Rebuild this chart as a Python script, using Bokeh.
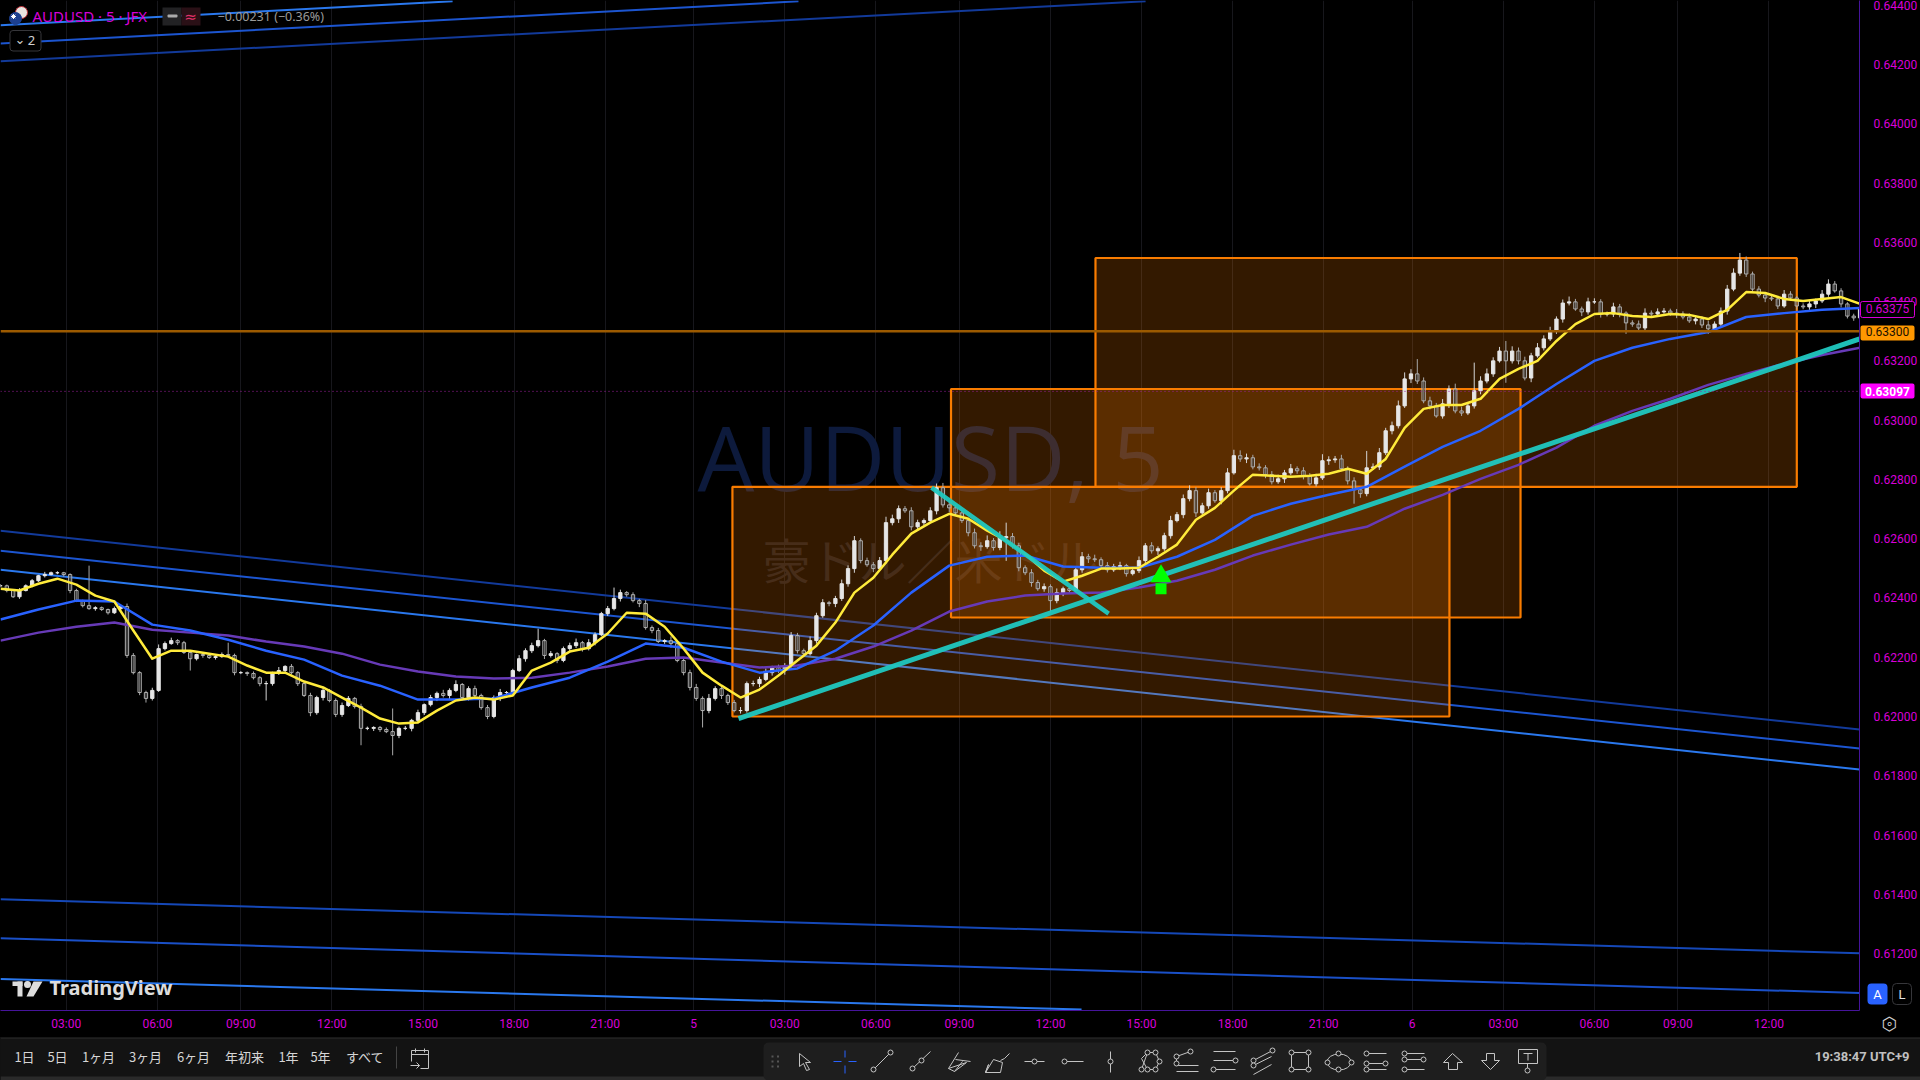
from bokeh.plotting import figure
from bokeh.models import Range1d, FixedTicker, Span, Label, BoxAnnotation
from bokeh.layouts import column
from bokeh.core.properties import value
from bokeh.embed import file_html
from bokeh.resources import INLINE
import numpy as np

# ---------- chart values (prices in 1e-5 units) ----------
closes = [
62441,62425,62404,62425,62441,62458,62475,62479,62485,62485,62479,62425,62391,62374,62364,62367,62361,62350,62364,62371,
62206,62148,62081,62061,62088,62229,62246,62256,62249,62216,62195,62209,62206,62199,62202,62209,62206,62148,62148,62145,
62131,62111,62111,62145,62155,62169,62148,62111,62071,62013,62064,62088,62054,62007,62037,62061,62034,61960,61960,61963,
61956,61949,61936,61960,61960,61987,62013,62040,62064,62078,62071,62088,62108,62064,62094,62071,62030,62000,62064,62081,
62081,62155,62195,62222,62239,62256,62206,62212,62189,62229,62239,62249,62229,62249,62276,62347,62364,62398,62418,62411,
62391,62381,62300,62290,62253,62256,62246,62189,62148,62098,62061,62020,62061,62094,62071,62047,62020,62020,62111,62111,
62125,62148,62165,62155,62172,62273,62222,62212,62256,62340,62384,62381,62398,62448,62499,62593,62526,62512,62499,62526,
62654,62667,62701,62694,62640,62654,62661,62694,62772,62714,62704,62687,62661,62620,62576,62573,62593,62570,62603,62607,
62576,62502,62485,62452,62431,62438,62391,62418,62431,62425,62495,62539,62532,62529,62509,62495,62506,62509,62482,62492,
62526,62576,62559,62566,62610,62661,62681,62735,62762,62687,62711,62755,62728,62762,62822,62880,62869,62873,62842,62839,
62816,62792,62802,62822,62836,62829,62812,62785,62805,62863,62866,62869,62836,62795,62765,62752,62839,62842,62890,62964,
62981,63048,63139,63156,63132,63065,63048,63014,63055,63105,63031,63024,63048,63099,63132,63156,63200,63233,63200,63233,
63200,63142,63217,63244,63274,63301,63341,63395,63399,63375,63365,63399,63399,63358,63358,63382,63361,63328,63324,63311,
63361,63358,63365,63368,63361,63358,63348,63335,63341,63321,63308,63324,63368,63442,63496,63540,63493,63442,63422,63412,
63409,63385,63425,63412,63385,63382,63392,63402,63425,63459,63436,63392,63351,63345,63375]
upper_wicks = [
6,4,3,8,5,6,3,9,4,5,3,4,6,3,135,5,4,3,7,5,
10,8,5,6,9,14,7,10,5,6,4,3,8,5,6,7,40,6,5,4,
7,5,9,6,12,4,8,5,7,9,6,12,5,7,10,8,5,9,6,4,
5,7,78,6,8,5,10,4,9,6,12,7,14,5,8,10,6,9,7,12,
5,6,12,8,10,40,6,9,5,7,10,14,6,12,8,6,9,37,10,5,
8,6,12,7,9,5,14,6,8,10,12,7,15,8,10,6,9,12,7,10,
9,14,6,10,8,12,9,7,14,10,12,6,9,14,11,16,8,10,9,12,
20,14,11,9,12,10,7,12,14,16,12,9,10,8,14,12,18,9,22,47,
12,10,8,12,9,11,8,14,7,9,12,16,10,14,8,12,9,13,6,10,
14,9,12,8,10,16,9,14,18,12,10,14,9,12,16,20,18,14,10,12,
9,12,14,10,16,8,12,9,14,22,12,10,14,8,12,9,57,12,16,10,
14,18,22,16,50,12,14,10,16,12,18,14,12,95,16,18,12,14,34,16,
12,14,10,16,12,14,9,12,18,10,8,14,12,9,8,14,10,6,9,12,
16,9,12,10,8,14,9,12,8,10,14,9,12,14,16,24,12,8,10,9,
12,8,14,10,7,9,12,8,14,16,10,9,6,8,10]
lower_wicks = [
5,6,4,7,3,5,4,6,3,5,7,9,5,6,4,7,5,6,4,5,
8,6,9,14,7,5,6,4,8,5,40,6,8,5,7,4,6,9,5,8,
6,9,57,7,5,10,6,8,5,12,7,10,6,9,8,5,7,57,6,9,
8,5,67,9,6,10,5,8,6,12,7,14,6,9,10,8,7,9,6,12,
7,9,5,10,8,6,12,7,9,6,12,8,10,6,9,5,8,6,10,7,
6,12,7,9,5,8,14,6,9,10,8,57,9,7,12,8,6,10,7,9,
12,6,10,8,14,7,9,12,6,10,7,9,12,8,10,14,9,7,12,8,
10,9,14,7,12,8,10,6,12,9,14,10,8,12,9,14,7,10,9,78,
9,12,8,14,7,10,40,9,12,8,6,10,14,8,12,9,7,12,10,6,
8,12,9,14,7,10,6,12,9,14,8,10,7,12,9,6,10,14,8,9,
12,9,7,14,8,10,12,6,9,7,14,10,8,12,47,14,9,7,10,8,
12,9,7,14,10,8,12,6,9,14,8,10,7,9,12,8,10,6,74,9,
12,8,14,6,9,7,10,12,8,6,14,9,7,12,8,10,14,37,9,7,
8,12,10,6,9,14,8,7,12,10,17,8,6,12,7,9,10,12,8,14,
7,10,6,9,12,8,10,14,7,9,6,12,8,10,9]

ma_yellow = [
62431,62425,62448,62465,62445,62408,62388,62290,62195,62222,62222,62212,62202,62172,62148,62148,62118,62098,62064,62030,
61993,61976,61980,62020,62054,62064,62057,62071,62155,62182,62219,62232,62280,62350,62347,62303,62229,62148,62104,62064,
62091,62138,62189,62239,62317,62418,62468,62546,62617,62654,62684,62667,62627,62593,62549,62492,62455,62475,62499,62499,
62502,62539,62580,62664,62704,62762,62816,62812,62809,62812,62819,62836,62819,62869,62974,63038,63051,63051,63072,63139,
63173,63200,63267,63324,63358,63361,63351,63348,63358,63355,63341,63372,63432,63429,63409,63402,63409,63415,63392]
ma_blue = [
62327,62361,62391,62388,62310,62290,62259,62222,62192,62138,62104,62057,62057,62061,62098,62131,62185,62246,62232,62185,
62148,62162,62222,62307,62418,62509,62539,62543,62506,62502,62502,62539,62596,62677,62718,62748,62775,62843,62910,62964,
63038,63122,63200,63244,63274,63297,63348,63361,63372,63378]
ma_purple = [
62256,62283,62303,62317,62293,62283,62273,62253,62236,62212,62175,62152,62135,62128,62131,62148,62169,62195,62199,62182,
62165,62172,62195,62236,62290,62354,62388,62408,62415,62418,62435,62458,62495,62543,62580,62614,62640,62701,62748,62802,
62849,62907,62981,63031,63072,63119,63156,63190,63220,63244]

# trend lines: (bar0, price0, bar1, price1)
down_channel = [(0, 62627, 734.8, 61956), (0, 62559, 734.8, 61892), (0, 62495, 734.8, 61821)]
down_colors = ["#123a9a", "#1c55d0", "#2a78ee"]
low_channel = [(0, 61383, 734.8, 61201), (0, 61252, 734.8, 61067), (0, 61114, 427.3, 61011)]
low_colors = ["#1548b8", "#1a50c8", "#2a78ee"]
up_channel = [(0, 64332, 178.7, 64413), (0, 64271, 315.4, 64413), (0, 64211, 452.6, 64413)]
up_colors = ["#2a78ee", "#1c55d0", "#123a9a"]
teal_lines = [(291.7, 61993, 734.8, 63274), (368, 62772, 438, 62347)]
# boxes: left bar, right bar, top price, bottom price
zones = [(289.3, 572.7, 62775, 62000), (375.7, 600.8, 63105, 62334), (432.8, 710.0, 63547, 62775)]
signal = (458.7, 62473, 62431)

price_ticks = [0.612, 0.614, 0.616, 0.618, 0.620, 0.622, 0.624, 0.626, 0.628, 0.630, 0.632, 0.634, 0.636, 0.638, 0.640, 0.642, 0.644]
time_ticks = [26, 62, 95, 131, 167, 203, 239, 274, 310, 346, 379, 415, 451, 487, 523, 558, 594, 630, 663, 699]
time_labels = ["03:00", "06:00", "09:00", "12:00", "15:00", "18:00", "21:00", "5", "03:00", "06:00", "09:00", "12:00",
               "15:00", "18:00", "21:00", "6", "03:00", "06:00", "09:00", "12:00"]
last_price, level_price, mark_price = 0.63375, 0.63300, 0.63097

# ---------- scales ----------
PX_BAR = 2.53
PX_PRICE = 0.00003374
def X(px): return px / PX_BAR
def Y(py): return 0.62 + (716 - py) * PX_PRICE

MAGENTA = "#d800d8"
p = figure(width=1920, height=1037, output_backend="svg", toolbar_location=None,
           x_range=Range1d(0, X(1859)), y_range=Range1d(Y(1010), Y(0)),
           y_axis_location="right", background_fill_color="#000000", border_fill_color="#000000",
           min_border_left=0, min_border_top=0, min_border_right=61, min_border_bottom=27)
p.outline_line_color = None
p.frame_align = False
p.styles = {"background-color": "#000000"}

p.xaxis.ticker = FixedTicker(ticks=time_ticks)
p.xaxis.major_label_overrides = dict(zip(time_ticks, time_labels))
p.yaxis.ticker = FixedTicker(ticks=price_ticks)
p.yaxis.major_label_overrides = {t: f"{t:.5f}" for t in price_ticks}
for ax in (p.xaxis[0], p.yaxis[0]):
    ax.major_label_text_color = MAGENTA
    ax.major_label_text_font = "Roboto"
    ax.major_label_text_font_size = "12px"
    ax.major_tick_line_color = None
    ax.minor_tick_line_color = None
    ax.axis_line_color = "#46149a"
    ax.axis_line_width = 1
p.xaxis.major_label_standoff = 0
p.yaxis.major_label_standoff = 8
p.xgrid.ticker = FixedTicker(ticks=time_ticks)
p.xgrid.grid_line_color = "#17171c"
p.ygrid.visible = False

# watermark
p.text([X(930)], [Y(455)], text=["AUDUSD, 5"], text_align="center", text_baseline="middle",
       text_color="#0d1a3c", text_font=value("Open Sans"), text_font_size="90px")
p.text([X(930)], [Y(557)], text=["豪ドル／米ドル"], text_align="center", text_baseline="middle",
       text_color="#1a1a20", text_font=value("Noto Sans CJK JP"), text_font_size="48px")

# channels
for group, cols in ((down_channel, down_colors), (low_channel, low_colors), (up_channel, up_colors)):
    for (x0, y0, x1, y1), col in zip(group, cols):
        p.line([x0, x1], [y0 / 1e5, y1 / 1e5], line_color=col, line_width=2)

# zones
for (x0, x1, t_, b_) in zones:
    p.quad(left=[x0], right=[x1], top=[t_ / 1e5], bottom=[b_ / 1e5], fill_color="#ff7f00", fill_alpha=0.2,
           line_color="#f97c00", line_width=2.2)

# candles
c = np.array(closes) / 1e5
o = np.concatenate(([c[0]], c[:-1]))
h = np.maximum(o, c) + np.array(upper_wicks) / 1e5
l = np.minimum(o, c) - np.array(lower_wicks) / 1e5
bars = np.arange(len(c)) * 2.5
up = c >= o
p.segment(bars[up], h[up], bars[up], l[up], line_color="#d4d4d4", line_width=1)
p.segment(bars[~up], h[~up], bars[~up], l[~up], line_color="#a8a8a8", line_width=1)
p.vbar(bars[~up], 1.3, o[~up], c[~up], fill_color="#000000", fill_alpha=0.3, line_color="#b0b0b0", line_width=1)
p.vbar(bars[up], 1.3, o[up], c[up], fill_color="#e6e6e6", line_color="#e6e6e6", line_width=1)

# moving averages
p.line(np.arange(len(ma_purple)) * 15.0, np.array(ma_purple) / 1e5, line_color="#673ab7", line_width=2.5, line_join="round")
p.line(np.arange(len(ma_blue)) * 15.0, np.array(ma_blue) / 1e5, line_color="#2962ff", line_width=2.5, line_join="round")
p.line(np.arange(len(ma_yellow)) * 7.5, np.array(ma_yellow) / 1e5, line_color="#ffeb3b", line_width=2.5, line_join="round")

# level lines
p.add_layout(Span(location=level_price, dimension="width", line_color="#9c5a00", line_width=2.5))
p.add_layout(Span(location=mark_price, dimension="width", line_color="#a020a0", line_width=1, line_dash="1 3"))

# teal trend lines
for (x0, y0, x1, y1), w in zip(teal_lines, (5, 4.5)):
    p.line([x0, x1], [y0 / 1e5, y1 / 1e5], line_color="#20c8c0", line_width=w, line_alpha=0.95)

# signal arrow
p.scatter([signal[0]], [signal[1] / 1e5], marker="triangle", size=21, fill_color="#00ff00", line_color=None)
p.scatter([signal[0]], [signal[2] / 1e5], marker="square", size=11, fill_color="#00ff00", line_color=None)

# ---------- pane header ----------
def lab(px, py, text, color, size="13px", align="left", font="Roboto", style="normal"):
    p.add_layout(Label(x=X(px), y=Y(py), text=text, text_color=color, text_font_size=size, text_align=align,
                       text_baseline="middle", text_font=font, text_font_style=style))
def box(x0, x1, y0, y1, fill, alpha=1.0, line=None, radius=0):
    p.add_layout(BoxAnnotation(left=X(x0), right=X(x1), top=Y(y0), bottom=Y(y1), fill_color=fill, fill_alpha=alpha,
                               line_color=line, line_alpha=1.0 if line else 0, border_radius=radius))

p.scatter([X(21)], [Y(12)], marker="circle", size=12, fill_color="#e8e4e0", line_color="#c0303a")
p.scatter([X(15)], [Y(18)], marker="circle", size=12, fill_color="#1c3f8f", line_color="#1c3f8f")
p.scatter([X(13)], [Y(16)], marker="asterisk", size=5, line_color="#ffffff")
lab(32, 15.5, "AUDUSD · 5 · JFX", MAGENTA, "15px", font="Noto Sans")
box(162, 181, 7, 25, "#222224")
box(181, 200, 7, 25, "#2a1016")
box(167, 177, 14, 17, "#aaaaaa", radius=1)
lab(190, 16, "≈", "#e0306a", "15px", align="center", font="DejaVu Sans")
lab(217, 15.5, "−0.00231 (−0.36%)", "#9a9a9a", "12.5px", font="Noto Sans")
box(9.5, 40.5, 30, 50.5, "#000000", line="#36363a", radius=3)
lab(19.5, 39, "⌄", "#d0d0d0", "13px", align="center", font="DejaVu Sans")
lab(31, 39.5, "2", "#d0d0d0", "13px", align="center", font="Noto Sans")

# TradingView logo
p.quad(left=[X(12)], right=[X(22)], top=[Y(981)], bottom=[Y(985.5)], fill_color="#dddddd", line_color=None)
p.quad(left=[X(17)], right=[X(22)], top=[Y(981)], bottom=[Y(996)], fill_color="#dddddd", line_color=None)
p.scatter([X(27)], [Y(984)], marker="circle", size=7, fill_color="#dddddd", line_color=None)
p.patch([X(33), X(42), X(33), X(26)], [Y(981), Y(981), Y(996), Y(996)], fill_color="#dddddd", line_color=None)
lab(49, 987, "TradingView", "#dddddd", "20px", font="Noto Sans", style="bold")

# ---------- transparent layer over the price scale: tags, A / L buttons, settings ----------
g = figure(width=61, height=1037, output_backend="svg", toolbar_location=None,
           x_range=Range1d(1859, 1920), y_range=Range1d(Y(1037), Y(0)), x_axis_type=None, y_axis_type=None,
           background_fill_color=None, border_fill_color=None,
           min_border_left=0, min_border_top=0, min_border_right=0, min_border_bottom=0)
g.outline_line_color = None
g.grid.visible = False
g.frame_align = False
g.margin = (-1037, 0, 0, 1859)

def gtext(px, price, text, color, size="12px", font="Roboto", style="normal"):
    g.text([px], [price], text=[text], text_color=color, text_align="center", text_baseline="middle",
           text_font=value(font), text_font_size=size, text_font_style=style)
def gbox(x0, x1, y0, y1, fill, line=None, radius=2):
    g.quad(left=[x0], right=[x1], top=[Y(y0)], bottom=[Y(y1)], fill_color=fill, line_color=line, border_radius=radius)

gbox(1860, 1914, 301, 317, "#000000", line=MAGENTA)
gtext(1887, last_price, f"{last_price:.5f}", MAGENTA)
gbox(1860, 1914, 325, 340, "#ff9800")
gtext(1887, level_price, f"{level_price:.5f}", "#1a1000")
gbox(1860, 1914, 383, 398, "#ff00ff")
gtext(1887, mark_price, f"{mark_price:.5f}", "#ffffff", style="bold")

gbox(1867, 1887, 983, 1004, "#2962ff", radius=4)
gtext(1877, Y(994), "A", "#ffffff", "13px")
gbox(1892, 1911, 983, 1004, "#000000", line="#36363a", radius=4)
gtext(1901.5, Y(994), "L", "#e0e0e0", "13px")
gtext(1889, Y(1023), "⬡", "#d0d0d0", "18px", font="DejaVu Sans")
gtext(1889, Y(1023), "∘", "#d0d0d0", "13px", font="DejaVu Sans")

# ---------- bottom toolbar (reference pixel coordinates) ----------
ranges = ["1日", "5日", "1ヶ月", "3ヶ月", "6ヶ月", "年初来", "1年", "5年", "すべて"]
range_x = [24, 57, 98, 145, 193, 244, 288, 320, 365]
clock = "19:38:47 UTC+9"

t = figure(width=1920, height=43, output_backend="svg", toolbar_location=None,
           x_range=Range1d(0, 1920), y_range=Range1d(1080, 1037), x_axis_type=None, y_axis_type=None,
           background_fill_color="#131313", border_fill_color="#131313",
           min_border_left=0, min_border_top=0, min_border_right=0, min_border_bottom=0)
t.outline_line_color = None
t.grid.visible = False
t.frame_align = False
t.styles = {"background-color": "#131313"}
t.quad(left=[0], right=[1920], top=[1037], bottom=[1038], fill_color="#2e2e2e", line_color=None)
t.quad(left=[0], right=[1920], top=[1076], bottom=[1080], fill_color="#2a2a2a", line_color=None)
t.quad(left=[763], right=[1546], top=[1042], bottom=[1080], fill_color="#1e1e1e", line_color=None, border_radius=5)
t.text(range_x, [1056] * len(ranges), text=ranges, text_align="center", text_baseline="middle", text_color="#d6d6d6",
       text_font=value("Noto Sans CJK JP"), text_font_size="13px")
t.text([1909], [1056], text=[clock], text_align="right", text_baseline="middle", text_color="#c0c0c0",
       text_font=value("Roboto"), text_font_size="13px", text_font_style="bold")
t.segment([396], [1046], [396], [1068], line_color="#444444")

ICON = "#c4c4c4"
paths = [
    # calendar
    ([411, 411, 428, 428, 420], [1061, 1050, 1050, 1068, 1068]), ([411, 428], [1054, 1054]), ([415, 415], [1048, 1052]),
    ([424, 424], [1048, 1052]), ([410, 419], [1065, 1065]), ([416, 419, 416], [1062, 1065, 1068]),
    # cursor
    ([799, 799, 803, 806, 809, 805, 810, 799], [1053, 1066, 1063, 1070, 1069, 1062, 1062, 1053]),
    # trend, ray
    ([873, 890], [1069, 1052]), ([912, 930], [1068, 1051]),
    # fib, brush
    ([958, 948, 954, 966, 948], [1052, 1068, 1071, 1062, 1068]), ([955, 970], [1059, 1061]), ([962, 954], [1061, 1071]),
    ([985, 1000, 1002, 993, 985, 988, 985], [1072, 1072, 1062, 1059, 1072, 1064, 1072]), ([1000, 1004, 1009], [1060, 1058, 1053]),
    # h line, ray, v line
    ([1024, 1044], [1061, 1061]), ([1064, 1083], [1061, 1061]), ([1110, 1110], [1051, 1072]),
    # polyline, channels
    ([1141, 1147, 1155, 1159, 1155, 1147, 1141, 1147], [1069, 1052, 1052, 1061, 1069, 1069, 1058, 1052]),
    ([1176, 1190], [1056, 1051]), ([1176, 1176], [1056, 1063]), ([1176, 1198], [1065, 1065]), ([1176, 1198], [1071, 1071]),
    ([1213, 1235], [1051, 1051]), ([1213, 1235], [1060, 1060]), ([1213, 1235], [1069, 1069]),
    ([1253, 1272], [1060, 1050]), ([1253, 1271], [1065, 1056]), ([1253, 1271], [1074, 1064]),
    # rect
    ([1291, 1308, 1308, 1291, 1291], [1052, 1052, 1069, 1069, 1052]),
    # forks
    ([1366, 1386], [1053, 1053]), ([1366, 1385], [1063, 1063]), ([1366, 1386], [1069, 1069]),
    ([1404, 1424], [1053, 1053]), ([1404, 1422], [1059, 1059]), ([1404, 1424], [1069, 1069]),
    # arrows
    ([1443, 1452, 1462, 1457, 1457, 1448, 1448, 1443], [1062, 1053, 1062, 1062, 1069, 1069, 1062, 1062]),
    ([1481, 1490, 1499, 1494, 1494, 1486, 1486, 1481], [1060, 1069, 1060, 1060, 1053, 1053, 1060, 1060]),
    # text note
    ([1518, 1537, 1537, 1518, 1518], [1049, 1049, 1063, 1063, 1049]), ([1527, 1527], [1063, 1069]),
    ([1523, 1532], [1053, 1053]), ([1527.5, 1527.5], [1053, 1060]),
]
t.multi_line([q[0] for q in paths], [q[1] for q in paths], line_color=ICON, line_width=1)
t.ellipse([1338.5], [1061.5], width=[24], height=[16], fill_color=None, line_color=ICON, line_width=1)
nodes_x = [873, 890, 912, 921, 1034, 1064, 1110, 1141, 1147, 1155, 1159, 1155, 1147, 1176, 1190, 1176, 1235, 1213, 1253, 1272, 1253,
           1291, 1308, 1291, 1308, 1327, 1338, 1351, 1338, 1366, 1366, 1385, 1366, 1404, 1404, 1423, 1404, 1527]
nodes_y = [1069, 1052, 1068, 1060, 1061, 1061, 1061, 1069, 1052, 1052, 1061, 1069, 1069, 1056, 1051, 1063, 1060, 1069, 1060, 1050, 1065,
           1052, 1052, 1069, 1069, 1062, 1053, 1062, 1069, 1053, 1063, 1063, 1069, 1053, 1059, 1059, 1069, 1070]
t.scatter(nodes_x, nodes_y, marker="circle", size=5, fill_color="#1e1e1e", line_color=ICON, line_width=1)
grip_x = [772, 777.5] * 3
grip_y = [1056, 1056, 1061, 1061, 1066, 1066]
t.scatter(grip_x, grip_y, marker="square", size=2, fill_color="#555555", line_color=None)
t.segment([833, 848, 844.5, 844.5], [1061, 1061, 1050, 1065], [841, 856, 844.5, 844.5], [1061, 1061, 1057, 1073],
          line_color="#2962ff", line_width=1)

page = column(p, g, t, spacing=0)
open("out.html", "w").write(file_html(page, INLINE))
